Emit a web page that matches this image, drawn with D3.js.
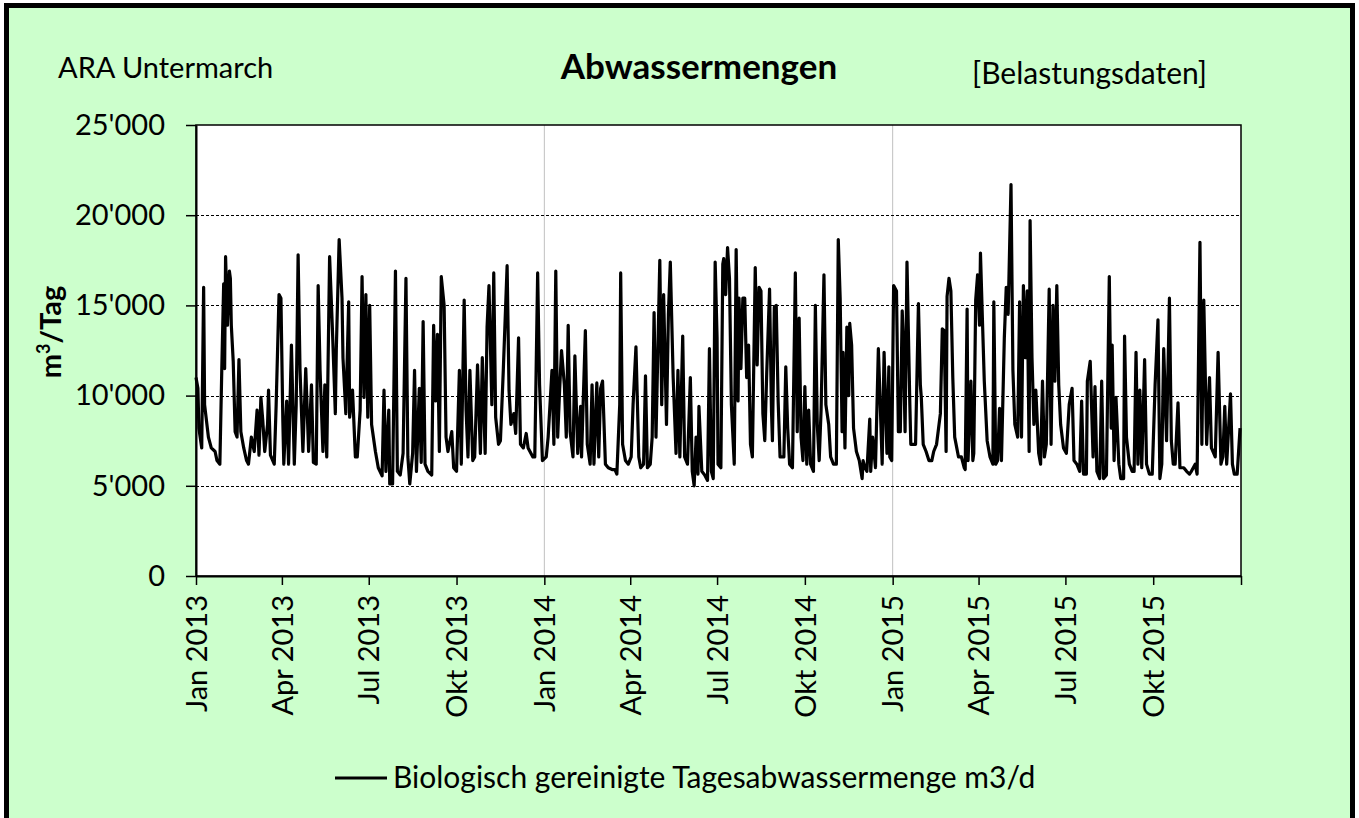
<!DOCTYPE html>
<html>
<head>
    <meta charset="utf-8">
    <title>Abwassermengen</title>
    <script src="https://d3js.org/d3.v7.min.js"></script>
    <style>
        body { margin: 0; background: #fff; }
        text { font-family: Lato, "Open Sans", sans-serif; fill: #000; }
    </style>
</head>
<body>
<div id="chart"></div>

<script type="text/javascript">
    // Tage seit 1.1.2013 und Tagesabwassermenge m3/d
    let days = [
        0, 2, 3, 6, 8, 9, 13, 16, 20, 22, 25, 27, 29, 30, 31, 33, 35, 36, 37, 39,
        41, 43, 45, 47, 50, 53, 55, 58, 61, 64, 66, 68, 70, 72, 75, 76, 78, 82, 84, 87,
        89, 91, 92, 95, 97, 100, 103, 105, 107, 109, 112, 115, 118, 121, 123, 126, 128, 130, 133, 135,
        137, 140, 143, 146, 147, 150, 153, 154, 157, 160, 161, 164, 167, 169, 172, 174, 176, 178, 180, 182,
        184, 188, 191, 195, 197, 199, 202, 203, 206, 209, 211, 214, 217, 220, 222, 224, 227, 229, 231, 234,
        236, 238, 240, 243, 247, 249, 251, 253, 255, 257, 260, 262, 264, 268, 270, 273, 276, 278, 281, 283,
        285, 287, 290, 292, 295, 298, 300, 303, 305, 307, 310, 312, 314, 317, 319, 322, 326, 328, 330, 333,
        335, 338, 340, 343, 346, 348, 353, 355, 358, 360, 363, 367, 369, 373, 375, 377, 379, 381, 383, 386,
        388, 390, 392, 395, 397, 400, 403, 404, 408, 410, 413, 415, 417, 420, 422, 424, 426, 429, 432, 436,
        439, 441, 444, 445, 447, 450, 453, 456, 458, 461, 464, 466, 469, 471, 473, 476, 478, 480, 482, 486,
        488, 490, 493, 495, 497, 500, 503, 505, 507, 510, 512, 515, 518, 520, 522, 524, 526, 527, 530, 533,
        536, 538, 540, 542, 544, 546, 547, 550, 552, 553, 555, 557, 559, 561, 564, 566, 568, 569, 571, 573,
        575, 577, 579, 581, 583, 586, 588, 590, 592, 594, 596, 598, 601, 603, 604, 606, 608, 610, 612, 616,
        618, 620, 622, 625, 628, 630, 632, 634, 636, 638, 640, 642, 644, 647, 649, 651, 653, 655, 658, 660,
        663, 665, 668, 671, 673, 675, 677, 678, 680, 682, 684, 685, 687, 689, 692, 695, 698, 699, 701, 703,
        706, 707, 709, 712, 715, 717, 719, 721, 724, 726, 727, 729, 731, 734, 736, 738, 740, 741, 743, 745,
        748, 749, 752, 754, 757, 759, 760, 762, 765, 768, 771, 773, 776, 780, 782, 784, 786, 787, 789, 791,
        793, 795, 799, 802, 805, 806, 808, 809, 812, 814, 815, 817, 819, 821, 822, 824, 826, 829, 832, 835,
        836, 838, 840, 842, 844, 847, 849, 851, 854, 856, 858, 861, 863, 865, 867, 869, 871, 873, 874, 876,
        878, 880, 883, 885, 887, 889, 891, 894, 896, 898, 900, 902, 904, 906, 909, 912, 915, 918, 920, 923,
        926, 928, 930, 933, 934, 937, 940, 942, 944, 947, 949, 951, 954, 957, 959, 960, 962, 964, 967, 969,
        972, 973, 975, 978, 981, 983, 985, 987, 989, 991, 994, 996, 999, 1002, 1005, 1008, 1010, 1012, 1014, 1017,
        1020, 1022, 1024, 1026, 1029, 1031, 1035, 1038, 1041, 1043, 1047, 1049, 1052, 1054, 1056, 1059, 1062, 1064, 1068, 1071,
        1074, 1076, 1078, 1080, 1084, 1086, 1088, 1091, 1094
    ]

    let flow = [
        11000, 10400, 8200, 7100, 16000, 9500, 7700, 7100, 6900, 6400, 6200, 11400, 16200, 11500, 17700, 13900, 16900, 16500, 13900, 11900,
        8000, 7700, 12000, 8000, 7100, 6400, 6200, 7700, 6900, 9200, 6700, 9900, 8600, 6900, 8400, 10300, 6700, 6200, 9500, 15600,
        15400, 8600, 6200, 9700, 6200, 12800, 6200, 9500, 17800, 11400, 6900, 11500, 6900, 10600, 6300, 6200, 16100, 11400, 6900, 10600,
        6600, 17700, 13600, 9000, 12500, 18650, 15400, 12100, 9000, 15200, 8800, 10300, 6600, 6600, 9200, 16600, 9900, 15600, 8800, 15000,
        8400, 6900, 6000, 5550, 10300, 5800, 9200, 5100, 5100, 16900, 5800, 5600, 6800, 16500, 6600, 5100, 6800, 11400, 5800, 10400,
        6300, 14100, 6200, 5800, 5600, 13900, 9700, 13400, 6900, 16600, 15000, 7700, 6900, 8000, 6000, 5800, 11400, 6200, 15300, 9200,
        6600, 11400, 6400, 6600, 11700, 6800, 12100, 6800, 13800, 16100, 9500, 16800, 8800, 7300, 7500, 11400, 17200, 10300, 8400, 9000,
        7900, 13200, 7300, 7100, 7900, 7100, 6600, 6600, 16800, 10600, 6400, 6600, 7700, 11400, 7300, 16900, 7700, 10300, 12500, 10600,
        7700, 13900, 8000, 6600, 12200, 6800, 9400, 6600, 13600, 7300, 6200, 10600, 6200, 10700, 6600, 10400, 10800, 6200, 6000, 5900,
        5900, 5650, 9500, 16800, 7300, 6400, 6200, 6600, 9500, 12700, 6600, 6000, 6200, 11100, 6000, 6200, 7700, 14600, 7700, 17500,
        9500, 15600, 8400, 14500, 17400, 11000, 6800, 11400, 6600, 13300, 6600, 6200, 11000, 5800, 5000, 7700, 5650, 9400, 5800, 5600,
        5300, 12600, 5800, 5400, 17400, 13200, 6200, 6000, 17300, 17600, 15600, 18200, 16500, 9500, 6200, 18100, 9700, 15400, 11500, 15400,
        15400, 11000, 12800, 7300, 6600, 17100, 11700, 16000, 15800, 9000, 7500, 11200, 15900, 9200, 7500, 14900, 15000, 9700, 6600, 6600,
        11600, 8200, 6200, 6000, 16800, 8000, 14300, 7700, 6400, 10500, 6200, 9200, 6200, 5800, 15000, 8400, 6400, 9200, 16700, 9500,
        8400, 6600, 6200, 6200, 18650, 15400, 8000, 12400, 7100, 13800, 10000, 14000, 12800, 8200, 6900, 6400, 5400, 6400, 6000, 5800,
        8700, 5800, 7700, 6000, 12600, 9500, 6200, 12400, 6800, 11600, 6600, 6400, 16100, 15800, 8000, 8000, 14700, 13300, 8000, 17400,
        9500, 7300, 7300, 7300, 15100, 10600, 9900, 7300, 6900, 6400, 6400, 6900, 7300, 9000, 13700, 13600, 6900, 15500, 16500, 15800,
        11000, 7700, 6600, 6600, 6000, 5900, 14800, 6400, 10800, 6400, 6800, 15300, 16700, 13900, 17900, 14300, 10800, 7500, 6600, 6200,
        15200, 6200, 6400, 9300, 6400, 13200, 16000, 14500, 21700, 11400, 8400, 7700, 15200, 7700, 16100, 12100, 15800, 6900, 19700, 12100,
        8400, 10300, 6800, 6200, 10800, 6600, 7300, 15900, 7300, 15000, 10800, 16100, 10600, 8400, 7100, 6800, 9500, 10400, 6400, 6200,
        5800, 9700, 5650, 5650, 10800, 11900, 6600, 10500, 5800, 5400, 10800, 5400, 5600, 16600, 8200, 12800, 6400, 9900, 6200, 5400,
        5400, 13300, 7700, 6200, 5800, 5800, 12400, 6200, 10300, 6000, 12000, 6200, 5650, 5650, 10600, 14200, 5400, 6200, 12600, 7500,
        15400, 7500, 6200, 6200, 9600, 6000, 6000, 5800, 5650, 5800, 6200, 5650, 18500, 7300, 15300, 7300, 11000, 7100, 6600, 12400,
        6200, 6600, 9400, 6200, 10100, 6200, 5650, 5650, 8200
    ]

    let yTicks = [0, 5000, 10000, 15000, 20000, 25000]
    let yGrid = [5000, 10000, 15000, 20000]
    let monthNames = ["Jan", "Feb", "Mär", "Apr", "Mai", "Jun", "Jul", "Aug", "Sep", "Okt", "Nov", "Dez"]
    let yearGrid = [new Date(2014, 0, 1), new Date(2015, 0, 1)]

    let width = 1359
    let height = 818
    let margin = {top: 125, right: 118, bottom: 242, left: 196}
    let w = width - margin.left - margin.right
    let h = height - margin.top - margin.bottom

    let start = new Date(2013, 0, 1)
    let end = new Date(2016, 0, 1)
    let data = days.map(function(d, i) {
        return {date: d3.timeDay.offset(start, d), value: flow[i]}
    })

    let svg = d3.select("#chart")
        .append("svg")
            .attr("width", width)
            .attr("height", height)

    // Hintergrund + Rahmen
    svg.append("rect")
        .attr("x", 0).attr("y", 0)
        .attr("width", width).attr("height", height)
        .attr("fill", "#fff")
    svg.append("rect")
        .attr("x", 6.5).attr("y", 5.5)
        .attr("width", 1346).attr("height", 900)
        .attr("fill", "#ccffcc")
        .attr("stroke", "#000")
        .attr("stroke-width", 5)

    let g = svg.append("g")
        .attr("transform", "translate(" + margin.left + "," + margin.top + ")")

    let x = d3.scaleTime().domain([start, end]).range([0, w])
    let y = d3.scaleLinear().domain([0, 25000]).range([h, 0])

    let fmt = d3.formatLocale({decimal: ".", thousands: "'", grouping: [3], currency: ["", ""]}).format(",")

    g.append("rect")
        .attr("width", w).attr("height", h)
        .attr("fill", "#fff")

    // Gitterlinien
    g.selectAll(".vgrid")
        .data(yearGrid)
        .enter()
        .append("line")
        .attr("x1", d => x(d)).attr("x2", d => x(d))
        .attr("y1", 0).attr("y2", h)
        .attr("stroke", "#c0c0c0")
        .attr("stroke-width", 1)

    g.selectAll(".hgrid")
        .data(yGrid)
        .enter()
        .append("line")
        .attr("x1", 0).attr("x2", w)
        .attr("y1", d => Math.round(y(d)) + 0.5).attr("y2", d => Math.round(y(d)) + 0.5)
        .attr("stroke", "#000")
        .attr("stroke-width", 1)
        .attr("stroke-dasharray", "3,2")

    // Rahmen Plotfläche
    g.append("rect")
        .attr("width", w).attr("height", h)
        .attr("fill", "none")
        .attr("stroke", "#000")
        .attr("stroke-width", 1.5)

    let line = d3.line()
        .x(d => x(d.date))
        .y(d => y(d.value))

    g.append("path")
        .datum(data)
        .attr("d", line)
        .attr("fill", "none")
        .attr("stroke", "#000")
        .attr("stroke-width", 3.2)
        .attr("stroke-linejoin", "round")

    // Achsen
    let xAxis = d3.axisBottom(x)
        .tickValues(d3.timeMonth.range(start, d3.timeDay.offset(end, 1), 3))
        .tickSizeInner(9)
        .tickSizeOuter(0)
        .tickFormat(d => d.getFullYear() < 2016 ? monthNames[d.getMonth()] + " " + d.getFullYear() : "")

    let gx = g.append("g")
        .attr("transform", "translate(0," + h + ")")
        .call(xAxis)
    gx.select(".domain").attr("stroke-width", 2)
    gx.selectAll(".tick line").attr("stroke-width", 1.5)
    gx.selectAll("text")
        .attr("transform", "rotate(-90)")
        .attr("x", -19)
        .attr("y", 0)
        .attr("dy", "0.35em")
        .style("text-anchor", "end")
        .attr("font-size", "29px")

    let yAxis = d3.axisLeft(y)
        .tickValues(yTicks)
        .tickSizeInner(10)
        .tickSizeOuter(0)
        .tickFormat(fmt)

    let gy = g.append("g").call(yAxis)
    gy.select(".domain").attr("stroke-width", 2)
    gy.selectAll(".tick line").attr("stroke-width", 1.5)
    gy.selectAll("text")
        .attr("x", -31)
        .attr("font-size", "29px")

    // Texte
    svg.append("text")
        .attr("x", 58).attr("y", 78)
        .attr("font-size", "29px")
        .text("ARA Untermarch")

    svg.append("text")
        .attr("x", 699).attr("y", 79)
        .style("text-anchor", "middle")
        .attr("font-size", "35px")
        .attr("font-weight", "bold")
        .text("Abwassermengen")

    svg.append("text")
        .attr("x", 972).attr("y", 84)
        .attr("font-size", "30px")
        .text("[Belastungsdaten]")

    let yt = svg.append("text")
        .attr("transform", "translate(61,332) rotate(-90)")
        .style("text-anchor", "middle")
        .attr("font-size", "29px")
        .attr("font-weight", "bold")
    yt.append("tspan").text("m")
    yt.append("tspan").attr("font-size", "18px").attr("dy", "-11").text("3")
    yt.append("tspan").attr("dy", "11").text("/Tag")

    // Legende
    svg.append("line")
        .attr("x1", 335).attr("x2", 387)
        .attr("y1", 778).attr("y2", 778)
        .attr("stroke", "#000")
        .attr("stroke-width", 3)

    svg.append("text")
        .attr("x", 393).attr("y", 788)
        .attr("font-size", "30px")
        .text("Biologisch gereinigte Tagesabwassermenge m3/d")
</script>
</body>
</html>
